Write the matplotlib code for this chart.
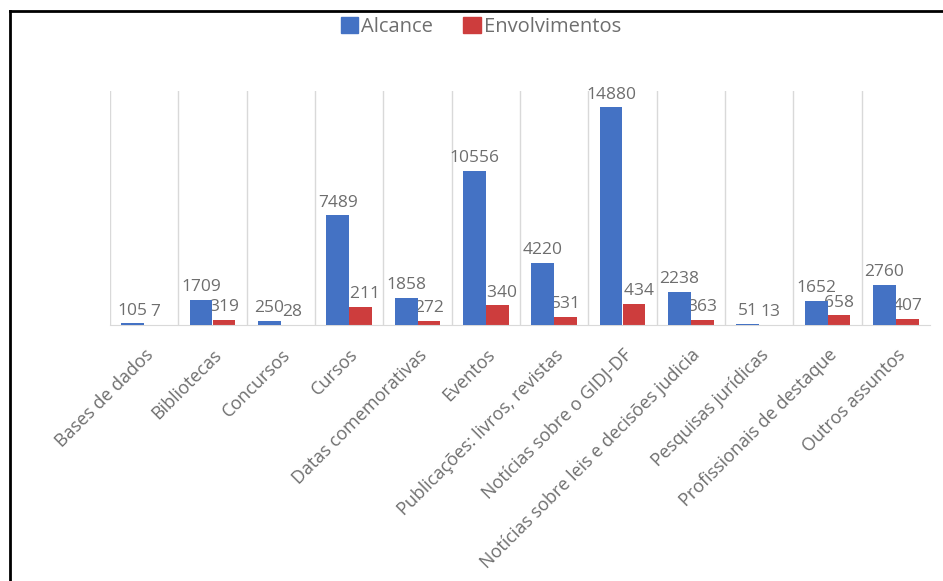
import numpy as np
import matplotlib
matplotlib.use("Agg")
import matplotlib.pyplot as plt
from matplotlib.patches import Patch
from matplotlib.lines import Line2D

categorias = ["Bases de dados", "Bibliotecas", "Concursos", "Cursos",
              "Datas comemorativas", "Eventos", "Publicações: livros, revistas",
              "Notícias sobre o GIDJ-DF", "Notícias sobre leis e decisões judicia",
              "Pesquisas jurídicas", "Profissionais de destaque", "Outros assuntos"]
alcance = [105, 1709, 250, 7489, 1858, 10556, 4220, 14880, 2238, 51, 1652, 2760]
envolvimentos = [7, 319, 28, 1211, 272, 1340, 531, 1434, 363, 13, 658, 407]

azul = "#4472C4"
vermelho = "#CD3D3D"
cinza = "#6E6E6E"

plt.rcParams['font.family'] = ['Open Sans', 'DejaVu Sans']

fig = plt.figure(figsize=(9.43, 5.81), dpi=100)
ax = fig.add_axes([110/943, 1-325/581, 820/943, 234/581])

x = np.arange(len(categorias))
w = 0.335
# barras azuis por cima dos rótulos vermelhos, como no original (esconde o primeiro dígito)
b1 = ax.bar(x - w/2, alcance, w, color=azul, zorder=3.5)
b2 = ax.bar(x + w/2, envolvimentos, w, color=vermelho, zorder=2)

for xi, v in zip(x, envolvimentos):
    ax.annotate(str(v), (xi + w/2, v), xytext=(0, 3.5), textcoords="offset points",
                ha="center", va="bottom", fontsize=12.5, color=cinza, zorder=3)
for xi, v in zip(x, alcance):
    ax.annotate(str(v), (xi - w/2, v), xytext=(0, 3.5), textcoords="offset points",
                ha="center", va="bottom", fontsize=12.5, color=cinza, zorder=4)

ax.set_xlim(-0.5, len(categorias) - 0.5)
ax.set_ylim(0, 16000)
for b in np.arange(-0.5, len(categorias) - 1, 1.0):
    ax.axvline(b, color="#D9D9D9", lw=1, zorder=0)

for s in ["top", "right", "left"]:
    ax.spines[s].set_visible(False)
ax.spines["bottom"].set_color("#D9D9D9")
ax.set_yticks([])
ax.set_xticks(x)
ax.set_xticklabels(categorias, rotation=45, ha="right", va="top",
                   rotation_mode="anchor", fontsize=13, color=cinza)
ax.tick_params(axis="x", length=0, pad=15)

handles = [Patch(color=azul, label="Alcance"), Patch(color=vermelho, label="Envolvimentos")]
fig.legend(handles=handles, loc="center", bbox_to_anchor=(481/943, 1-27/581), ncol=2,
           frameon=False, fontsize=14.5, handlelength=0.85, handleheight=0.85,
           handletextpad=0.15, columnspacing=1.5, labelcolor=cinza)

# moldura preta do recorte
fig.add_artist(Line2D([10/943, 1], [1-11/581, 1-11/581], color="black", lw=2,
                      transform=fig.transFigure))
fig.add_artist(Line2D([10/943, 10/943], [0, 1-11/581], color="black", lw=2,
                      transform=fig.transFigure))

fig.savefig("out.png", dpi=100)
